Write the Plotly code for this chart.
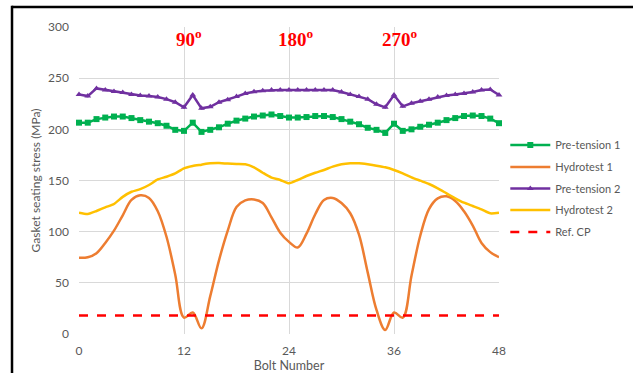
import plotly.graph_objects as go

bolts = list(range(49))

pretension1 = [206.5, 206.5, 210, 211.5, 212.5, 212.5, 211, 209, 207.5, 206, 203.5, 199.5, 198.5,
               206.5, 197.5, 199.5, 202, 205.5, 208.5, 210.5, 212.5, 213.5, 214.5, 213, 211.5,
               211.5, 212, 213, 213, 212, 210, 207.5, 205, 201.5, 199.5, 196.5, 205.5, 198.5,
               200, 202.5, 204.5, 206.5, 209, 211, 213, 213.5, 213, 210.5, 206]

hydrotest1 = [74.5, 75, 79, 89, 101, 116, 131, 135.5, 133, 120, 95, 58, 16, 21, 5.5, 37, 72,
              101, 124, 130.5, 131.5, 128, 114, 99, 90, 84.5, 98, 117, 131, 133, 128, 118, 97,
              60, 23.5, 4, 21, 16, 57, 96, 122, 132.5, 134.5, 130, 120, 106, 89, 80, 75]

pretension2 = [234, 232.5, 240, 238.5, 237, 236, 234, 233, 232.5, 231.5, 229.5, 226.5, 221.5,
               233.5, 220.5, 222, 226.5, 229, 232, 235, 236.8, 237.8, 238.5, 238.5, 238.5, 238.5,
               238.5, 238.5, 238.5, 238.5, 236.5, 234, 232, 229.5, 224.5, 221.5, 233.5, 222.5,
               225.5, 227.5, 229.5, 231.5, 233, 234, 235, 236.5, 238.5, 239, 233.5]

hydrotest2 = [118.5, 117.3, 120.2, 123.8, 127, 134, 139, 141.5, 145.6, 151, 153.7, 157, 161.9,
              164.2, 165.5, 166.8, 167.1, 166.5, 166.1, 165.8, 162.9, 157.6, 152.8, 150.5, 147.2,
              150.5, 154.4, 157.6, 160.3, 163.5, 165.8, 166.8, 166.8, 165.8, 164.5, 162.9, 160.3,
              157, 153.1, 149.8, 146.6, 142.4, 137.5, 132.6, 128.3, 125.1, 121.8, 117.9, 118.5]

ref_cp_x = [0, 48]
ref_cp_y = [18, 18]

angle_labels = ["90<sup>o</sup>", "180<sup>o</sup>", "270<sup>o</sup>"]
angle_x = [12.57, 24.8, 36.7]
angle_y = 289

x_ticks = [0, 12, 24, 36, 48]
y_ticks = [0, 50, 100, 150, 200, 250, 300]

# legend row centres (pixels from top) -> one legend per entry
legend_rows_px = [145, 167, 188.5, 210, 232]
legend_ids = ["legend", "legend2", "legend3", "legend4", "legend5"]

fig = go.Figure()
fig.add_trace(go.Scatter(x=bolts, y=pretension1, name="Pre-tension 1", mode="lines+markers",
                         line=dict(color="#00B050", width=2.5),
                         marker=dict(symbol="square", size=6, color="#00B050"), cliponaxis=False,
                         legend=legend_ids[0]))
fig.add_trace(go.Scatter(x=bolts, y=hydrotest1, name="Hydrotest 1", mode="lines",
                         line=dict(color="#ED7D31", width=2.5, shape="spline", smoothing=1.0),
                         cliponaxis=False, legend=legend_ids[1]))
fig.add_trace(go.Scatter(x=bolts, y=pretension2, name="Pre-tension 2", mode="lines+markers",
                         line=dict(color="#7030A0", width=2.5),
                         marker=dict(symbol="triangle-up", size=6, color="#7030A0"), cliponaxis=False,
                         legend=legend_ids[2]))
fig.add_trace(go.Scatter(x=bolts, y=hydrotest2, name="Hydrotest 2", mode="lines",
                         line=dict(color="#FFC000", width=2.5, shape="spline", smoothing=0.6),
                         cliponaxis=False, legend=legend_ids[3]))
fig.add_trace(go.Scatter(x=ref_cp_x, y=ref_cp_y, name="Ref. CP", mode="lines",
                         line=dict(color="#FF0000", width=2.5, dash="dash"), cliponaxis=False,
                         legend=legend_ids[4]))

for t, xv in zip(angle_labels, angle_x):
    fig.add_annotation(x=xv, y=angle_y, xref="x", yref="y", text=t, showarrow=False,
                       font=dict(family="Liberation Serif", size=19, color="#FF0000", weight="bold"),
                       xanchor="center", yanchor="middle")

# outer frame of the chart
fig.add_shape(type="line", xref="paper", yref="paper", x0=-0.16, x1=1.4, y0=1.065, y1=1.065,
              line=dict(color="black", width=2.5))
fig.add_shape(type="line", xref="paper", yref="paper", x0=-0.1595, x1=-0.1595, y0=-0.2, y1=1.069,
              line=dict(color="black", width=2.5))

plot_top, plot_bottom = 27, 334
legend_layout = {}
for lid, ypx in zip(legend_ids, legend_rows_px):
    legend_layout[lid] = dict(x=1.015, y=(plot_bottom - ypx) / (plot_bottom - plot_top),
                              xanchor="left", yanchor="middle",
                              font=dict(size=11, color="#595959"),
                              itemwidth=40, bgcolor="rgba(0,0,0,0)")

fig.update_layout(
    width=633, height=373,
    margin=dict(l=79, r=134, t=27, b=39, autoexpand=False),
    paper_bgcolor="white", plot_bgcolor="white",
    font=dict(family="Lato", color="#595959", size=12),
    showlegend=True,
    **legend_layout,
)
fig.update_xaxes(range=[0, 48], tickvals=x_ticks, showgrid=True, gridcolor="#D9D9D9",
                 gridwidth=1, zeroline=False, showline=False, ticks="", automargin=False,
                 ticklabelstandoff=8, tickfont=dict(size=12, color="#595959"),
                 title=dict(text="Bolt Number", font=dict(size=12.5, color="#595959"), standoff=3))
fig.update_yaxes(range=[0, 300], tickvals=y_ticks, showgrid=True, gridcolor="#D9D9D9",
                 gridwidth=1, zeroline=False, showline=False, ticks="", automargin=False,
                 ticklabelstandoff=9, tickfont=dict(size=12, color="#595959"),
                 title=dict(text="Gasket seating stress (MPa)", font=dict(size=12, color="#595959"),
                            standoff=4))

fig.write_html("out.html")
